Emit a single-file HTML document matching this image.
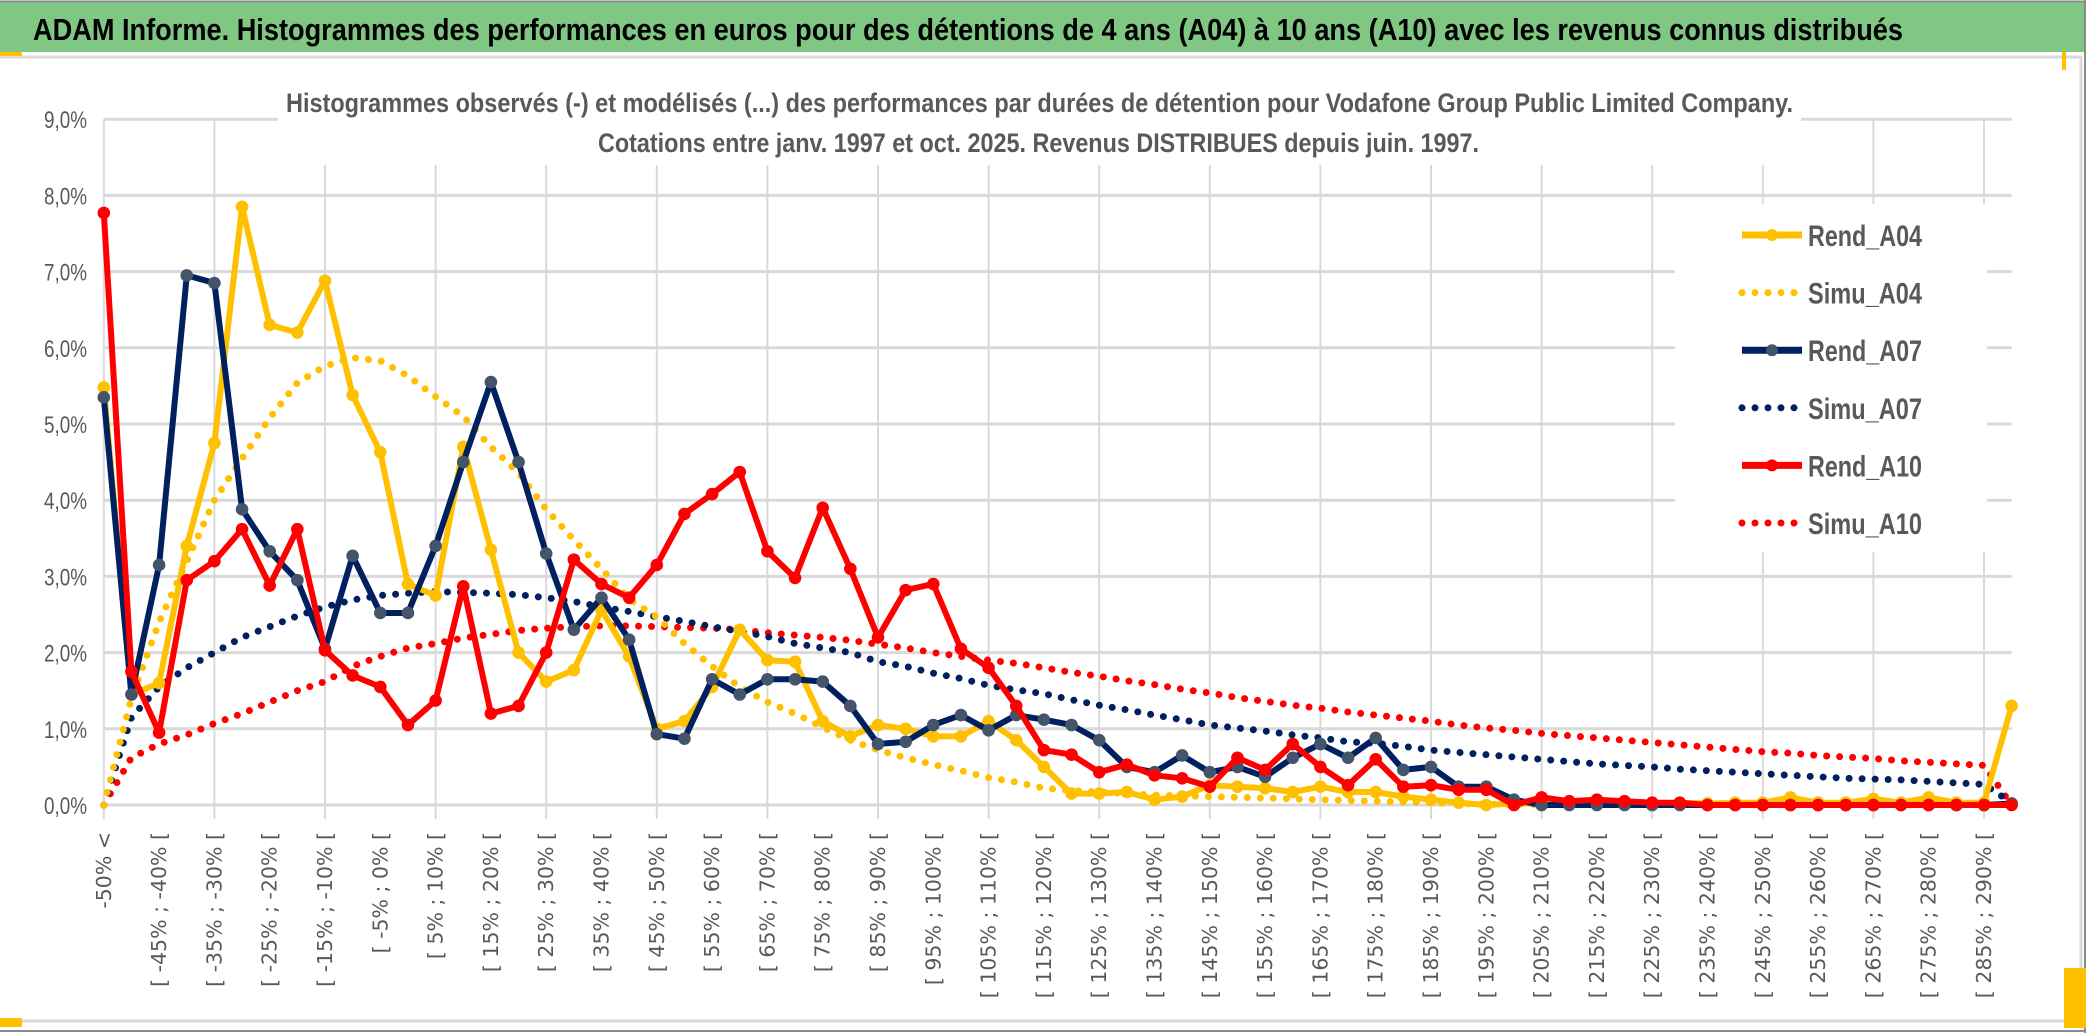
<!DOCTYPE html>
<html><head><meta charset="utf-8"><style>
html,body{margin:0;padding:0;background:#fff;}
svg{display:block;}
text{font-family:"Liberation Sans",sans-serif;}
</style></head><body>
<svg id="chart" width="2086" height="1033" viewBox="0 0 2086 1033" xmlns="http://www.w3.org/2000/svg">
<rect x="0" y="0" width="2086" height="1033" fill="#fff"/>
<rect x="0" y="2" width="2086" height="50" fill="#80C783"/>
<line x1="0" y1="1.5" x2="2086" y2="1.5" stroke="#8a8a8a" stroke-width="2"/>
<text x="33" y="40" font-size="31" font-weight="bold" fill="#000" textLength="1870" lengthAdjust="spacingAndGlyphs">ADAM Informe. Histogrammes des performances en euros pour des détentions de 4 ans (A04) à 10 ans (A10) avec les revenus connus distribués</text>
<line x1="0" y1="57" x2="2082" y2="57" stroke="#d9d9d9" stroke-width="3"/>
<line x1="2081" y1="57" x2="2081" y2="1022" stroke="#d9d9d9" stroke-width="3"/>
<line x1="0" y1="1021" x2="2082" y2="1021" stroke="#d9d9d9" stroke-width="3"/>
<line x1="0" y1="1031" x2="2086" y2="1031" stroke="#8a8a8a" stroke-width="2"/>
<line x1="2085" y1="0" x2="2085" y2="1033" stroke="#8a8a8a" stroke-width="2"/>
<rect x="0" y="52" width="22" height="4" fill="#FFC000"/>
<rect x="2062" y="52" width="4" height="18" fill="#FFC000"/>
<rect x="0" y="1018" width="22" height="9" fill="#FFC000"/>
<rect x="2064" y="968" width="22" height="60" fill="#FFC000"/>
<g id="grid"></g>
<rect x="278" y="60" width="1523" height="105" fill="#fff"/>
<text x="286" y="112" font-size="27" font-weight="bold" fill="#595959" textLength="1507" lengthAdjust="spacingAndGlyphs">Histogrammes observés (-) et modélisés (...) des performances par durées de détention pour Vodafone Group Public Limited Company.</text>
<text x="598" y="152" font-size="27" font-weight="bold" fill="#595959" textLength="881" lengthAdjust="spacingAndGlyphs">Cotations entre janv. 1997 et oct. 2025. Revenus DISTRIBUES depuis juin. 1997.</text>
<g id="yaxis"></g>
<g id="xaxis"></g>
<g id="series"></g>
<rect x="1675" y="204" width="312" height="348" fill="#fff"/>
<g id="legend"></g>
</svg>
<script>
const categories = ["-50% <","[ -50% ; -45% [","[ -45% ; -40% [","[ -40% ; -35% [","[ -35% ; -30% [","[ -30% ; -25% [","[ -25% ; -20% [","[ -20% ; -15% [","[ -15% ; -10% [","[ -10% ; -5% [","[ -5% ; 0% [","[ 0% ; 5% [","[ 5% ; 10% [","[ 10% ; 15% [","[ 15% ; 20% [","[ 20% ; 25% [","[ 25% ; 30% [","[ 30% ; 35% [","[ 35% ; 40% [","[ 40% ; 45% [","[ 45% ; 50% [","[ 50% ; 55% [","[ 55% ; 60% [","[ 60% ; 65% [","[ 65% ; 70% [","[ 70% ; 75% [","[ 75% ; 80% [","[ 80% ; 85% [","[ 85% ; 90% [","[ 90% ; 95% [","[ 95% ; 100% [","[ 100% ; 105% [","[ 105% ; 110% [","[ 110% ; 115% [","[ 115% ; 120% [","[ 120% ; 125% [","[ 125% ; 130% [","[ 130% ; 135% [","[ 135% ; 140% [","[ 140% ; 145% [","[ 145% ; 150% [","[ 150% ; 155% [","[ 155% ; 160% [","[ 160% ; 165% [","[ 165% ; 170% [","[ 170% ; 175% [","[ 175% ; 180% [","[ 180% ; 185% [","[ 185% ; 190% [","[ 190% ; 195% [","[ 195% ; 200% [","[ 200% ; 205% [","[ 205% ; 210% [","[ 210% ; 215% [","[ 215% ; 220% [","[ 220% ; 225% [","[ 225% ; 230% [","[ 230% ; 235% [","[ 235% ; 240% [","[ 240% ; 245% [","[ 245% ; 250% [","[ 250% ; 255% [","[ 255% ; 260% [","[ 260% ; 265% [","[ 265% ; 270% [","[ 270% ; 275% [","[ 275% ; 280% [","[ 280% ; 285% [","[ 285% ; 290% [","> 290%"];
const yTicks = [0,1,2,3,4,5,6,7,8,9];
const yTickLabels = ["0,0%","1,0%","2,0%","3,0%","4,0%","5,0%","6,0%","7,0%","8,0%","9,0%"];
const rendA04 = [5.48,1.45,1.6,3.4,4.75,7.85,6.3,6.2,6.88,5.38,4.63,2.9,2.75,4.7,3.35,2.0,1.62,1.77,2.56,1.95,1.0,1.1,1.55,2.3,1.9,1.88,1.1,0.9,1.05,1.0,0.9,0.9,1.1,0.85,0.5,0.15,0.15,0.17,0.07,0.11,0.26,0.24,0.22,0.17,0.24,0.17,0.17,0.11,0.07,0.03,0.0,0.02,0.02,0.03,0.02,0.03,0.02,0.03,0.02,0.03,0.03,0.1,0.03,0.03,0.08,0.03,0.1,0.03,0.03,1.3];
const rendA07 = [5.35,1.45,3.15,6.95,6.85,3.88,3.33,2.95,2.05,3.27,2.52,2.52,3.4,4.5,5.55,4.5,3.3,2.3,2.72,2.17,0.93,0.87,1.65,1.45,1.65,1.65,1.62,1.3,0.8,0.83,1.05,1.18,0.98,1.18,1.12,1.05,0.85,0.5,0.43,0.65,0.43,0.5,0.37,0.62,0.8,0.62,0.88,0.46,0.5,0.24,0.24,0.07,0.0,0.0,0.0,0.0,0.0,0.0,0.0,0.0,0.0,0.0,0.0,0.0,0.0,0.0,0.0,0.0,0.0,0.02];
const rendA10 = [7.77,1.75,0.95,2.95,3.2,3.62,2.88,3.62,2.03,1.7,1.55,1.05,1.37,2.87,1.2,1.3,2.0,3.22,2.9,2.72,3.15,3.82,4.08,4.37,3.33,2.98,3.9,3.1,2.2,2.82,2.9,2.05,1.8,1.3,0.72,0.66,0.43,0.53,0.39,0.35,0.24,0.62,0.46,0.8,0.5,0.26,0.6,0.24,0.26,0.2,0.2,0.0,0.1,0.05,0.07,0.05,0.03,0.03,0.0,0.0,0.0,0.0,0.0,0.0,0.0,0.0,0.0,0.0,0.0,0.0];
const simuA04 = [0,1.4,2.4,3.2,4.0,4.55,5.08,5.54,5.76,5.87,5.83,5.63,5.36,5.1,4.7,4.36,3.88,3.48,3.1,2.7,2.47,2.12,1.82,1.55,1.35,1.2,1.02,0.85,0.72,0.62,0.53,0.45,0.36,0.3,0.22,0.19,0.17,0.15,0.13,0.12,0.11,0.1,0.09,0.08,0.07,0.06,0.05,0.04,0.03,0.02,0.01,0.008,0.006,0.005,0.004,0.003,0.003,0.002,0.002,0.002,0.001,0.001,0.001,0.001,0.001,0.001,0.001,0.001,0.001,0.001];
const simuA07 = [0,1.15,1.55,1.8,2.0,2.2,2.34,2.48,2.6,2.69,2.75,2.78,2.8,2.79,2.78,2.76,2.72,2.67,2.6,2.54,2.47,2.41,2.34,2.28,2.21,2.12,2.06,2.0,1.88,1.82,1.73,1.66,1.57,1.51,1.46,1.38,1.31,1.25,1.18,1.12,1.05,1.01,0.97,0.92,0.88,0.83,0.81,0.77,0.72,0.69,0.66,0.63,0.6,0.57,0.54,0.52,0.5,0.47,0.45,0.43,0.41,0.39,0.37,0.35,0.34,0.33,0.31,0.29,0.27,0.03];
const simuA10 = [0,0.62,0.8,0.92,1.07,1.2,1.35,1.5,1.62,1.82,1.95,2.06,2.12,2.19,2.24,2.29,2.32,2.34,2.35,2.35,2.34,2.33,2.32,2.3,2.26,2.23,2.2,2.16,2.11,2.06,2.0,1.95,1.9,1.86,1.8,1.74,1.69,1.63,1.58,1.52,1.47,1.41,1.36,1.31,1.27,1.22,1.18,1.14,1.1,1.05,1.01,0.98,0.94,0.91,0.88,0.85,0.82,0.79,0.76,0.73,0.7,0.68,0.65,0.63,0.61,0.58,0.56,0.54,0.52,0.0];

const NS = "http://www.w3.org/2000/svg";
const X0 = 103.8, DX = 27.65, Y0 = 805, DY = 76.2;
function xScale(i){ return X0 + DX*i; }
function yScale(v){ return Y0 - DY*v; }
function mk(tag, attrs, parent){
  const e = document.createElementNS(NS, tag);
  for (const k in attrs) e.setAttribute(k, attrs[k]);
  parent.appendChild(e);
  return e;
}
const grid = document.getElementById('grid');
const xRight = xScale(categories.length-1);
yTicks.forEach(function(t){
  const l = mk('line', {x1: X0, x2: xRight, y1: yScale(t), y2: yScale(t), stroke: '#d9d9d9', 'stroke-width': 3}, grid);
  
  
});
for (let i = 0; i < categories.length; i += 4) {
  const l = mk('line', {x1: xScale(i), x2: xScale(i), y1: yScale(yTicks[yTicks.length-1]), y2: Y0 + 14, stroke: '#d9d9d9', 'stroke-width': 2}, grid);
  
  
}
const yaxis = document.getElementById('yaxis');
yTicks.forEach(function(t, k){
  const tx = mk('text', {x: 87, y: yScale(t) + 9, 'text-anchor': 'end', 'font-size': 24, fill: '#595959', textLength: 43, lengthAdjust: 'spacingAndGlyphs'}, yaxis);
  tx.textContent = yTickLabels[k];
  
  
});
const xaxis = document.getElementById('xaxis');
categories.forEach(function(c, i){
  if (i % 2 !== 0) return;
  const x = xScale(i) + 7;
  const tx = mk('text', {x: 0, y: 0, transform: 'translate(' + x + ',832) rotate(-90)', 'text-anchor': 'end', 'font-size': 20.5, fill: '#595959', style: 'font-family:"DejaVu Sans",sans-serif'}, xaxis);
  tx.textContent = c;
  
  
});
const series = document.getElementById('series');
function pathFor(vals){
  return vals.map(function(v, i){ return (i ? 'L' : 'M') + xScale(i).toFixed(1) + ',' + yScale(v).toFixed(1); }).join(' ');
}
function drawSimu(vals, color, name){
  const p = mk('path', {d: pathFor(vals), fill: 'none', stroke: color, 'stroke-width': 7, 'stroke-linecap': 'round', 'stroke-dasharray': '0 13'}, series);
  
  
}
function drawRend(vals, color, markerColor, name){
  const g = mk('g', {}, series);
  
  
  mk('path', {d: pathFor(vals), fill: 'none', stroke: color, 'stroke-width': 6, 'stroke-linejoin': 'round'}, g);
  vals.forEach(function(v, i){
    const c = mk('circle', {cx: xScale(i), cy: yScale(v), r: 5.8, fill: markerColor, stroke: markerColor}, g);
    
    
  });
}
drawSimu(simuA10, '#FF0000', 'simu-a10-line');
drawSimu(simuA07, '#002060', 'simu-a07-line');
drawSimu(simuA04, '#FFC000', 'simu-a04-line');
drawRend(rendA04, '#FFC000', '#FFC000', 'rend-a04-line');
drawRend(rendA07, '#002060', '#44546A', 'rend-a07-line');
drawRend(rendA10, '#FF0000', '#FF0000', 'rend-a10-line');

const legendNames = ["Rend_A04","Simu_A04","Rend_A07","Simu_A07","Rend_A10","Simu_A10"];
const legendColors = ["#FFC000","#FFC000","#002060","#002060","#FF0000","#FF0000"];
const legendMarkers = ["#FFC000",null,"#44546A",null,"#FF0000",null];
const legend = document.getElementById('legend');
legendNames.forEach(function(n, k){
  const cy = 235 + 57.6*k;
  const g = mk('g', {}, legend);
  
  
  if (legendMarkers[k]) {
    mk('line', {x1: 1742, x2: 1802, y1: cy, y2: cy, stroke: legendColors[k], 'stroke-width': 7}, g);
    mk('circle', {cx: 1772, cy: cy, r: 6, fill: legendMarkers[k]}, g);
  } else {
    mk('line', {x1: 1742, x2: 1800, y1: cy, y2: cy, stroke: legendColors[k], 'stroke-width': 7, 'stroke-linecap': 'round', 'stroke-dasharray': '0 13'}, g);
  }
  const t = mk('text', {x: 1808, y: cy + 11, 'font-size': 30, 'font-weight': 'bold', fill: '#595959', textLength: 114, lengthAdjust: 'spacingAndGlyphs'}, g);
  t.textContent = n;
});
</script>
</body></html>
